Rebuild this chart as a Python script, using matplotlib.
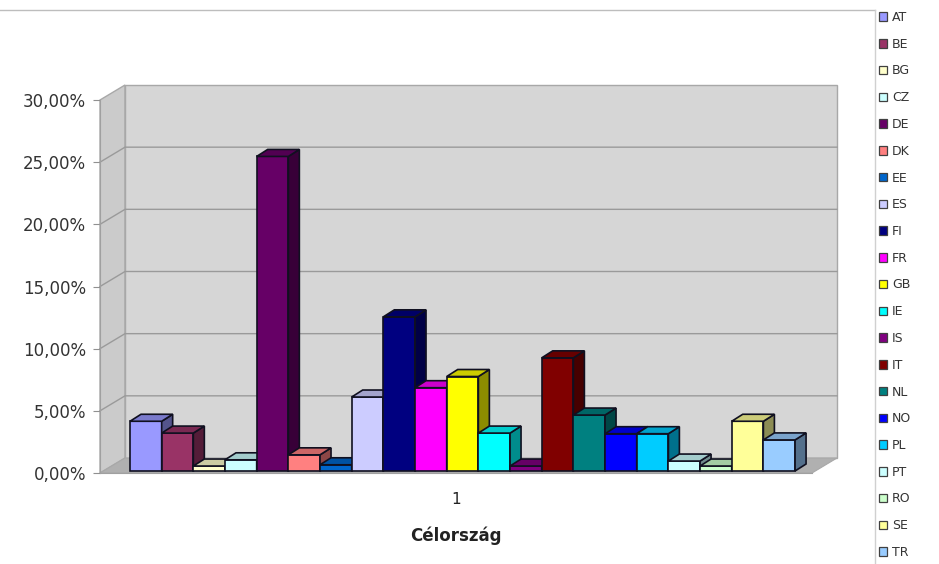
import matplotlib
matplotlib.use("Agg")
import matplotlib.pyplot as plt
import matplotlib.colors as mcolors
from matplotlib.patches import Polygon, Patch
from matplotlib.lines import Line2D
from matplotlib.ticker import FuncFormatter

countries = ["AT", "BE", "BG", "CZ", "DE", "DK", "EE", "ES", "FI", "FR", "GB",
             "IE", "IS", "IT", "NL", "NO", "PL", "PT", "RO", "SE", "TR"]
shares = [4.0, 3.05, 0.4, 0.9, 25.3, 1.3, 0.5, 5.95, 12.4, 6.7, 7.6,
          3.05, 0.4, 9.1, 4.5, 3.0, 3.0, 0.8, 0.4, 4.0, 2.5]
colors = ["#9999FF", "#993366", "#FFFFCC", "#CCFFFF", "#660066", "#FF8080",
          "#0066CC", "#CCCCFF", "#000080", "#FF00FF", "#FFFF00", "#00FFFF",
          "#800080", "#800000", "#008080", "#0000FF", "#00CCFF", "#CCFFFF",
          "#CCFFCC", "#FFFF99", "#99CCFF"]
y_ticks = [0, 5, 10, 15, 20, 25, 30]
category_label = "1"
axis_title = "Célország"

W, H = 939, 564
fig = plt.figure(figsize=(W / 100, H / 100), dpi=100)

# front plane of the 3D box, in pixels
left_px, right_px, bottom_px, top_px = 100, 812, 473, 100
ax = fig.add_axes([left_px / W, 1 - bottom_px / H,
                   (right_px - left_px) / W, (bottom_px - top_px) / H])

bar_w_px = 31.67
first_bar_px = 130
xmin = (left_px - first_bar_px) / bar_w_px
xmax = (right_px - first_bar_px) / bar_w_px
ymax = y_ticks[-1]
ax.set_xlim(xmin, xmax)
ax.set_ylim(0, ymax)
px_per_pct = (bottom_px - top_px) / ymax

wall_dx, wall_dy = 25 / bar_w_px, 15 / px_per_pct
bar_dx, bar_dy = 11 / bar_w_px, 7 / px_per_pct
base = 2 / px_per_pct


def shade(c, f):
    r, g, b = mcolors.to_rgb(c)
    return (r * f, g * f, b * f)


def poly(pts, fc, ec, lw, z):
    ax.add_patch(Polygon(pts, closed=True, facecolor=fc, edgecolor=ec,
                         linewidth=lw, zorder=z, clip_on=False))


wall_ec = "#a8a8a8"
# side wall, back wall, floor
poly([(xmin, 0), (xmin + wall_dx, wall_dy), (xmin + wall_dx, ymax + wall_dy), (xmin, ymax)],
     "#cbcbcb", wall_ec, 1.0, 1)
poly([(xmin + wall_dx, wall_dy), (xmax + wall_dx, wall_dy),
      (xmax + wall_dx, ymax + wall_dy), (xmin + wall_dx, ymax + wall_dy)],
     "#d6d6d6", wall_ec, 1.0, 1)
poly([(xmin, 0), (xmax, 0), (xmax + wall_dx, wall_dy), (xmin + wall_dx, wall_dy)],
     "#b0b0b0", wall_ec, 0.8, 1)

for t in y_ticks[1:-1]:
    ax.plot([xmin, xmin + wall_dx, xmax + wall_dx], [t, t + wall_dy, t + wall_dy],
            color="#9a9a9a", lw=1.0, zorder=2, clip_on=False)

for i, (v, c) in enumerate(zip(shares, colors)):
    x0, x1 = i, i + 1
    y0, y1 = base, base + v
    poly([(x0, y0), (x1, y0), (x1, y1), (x0, y1)], c, "#101020", 1.2, 3)
    poly([(x1, y0), (x1 + bar_dx, y0 + bar_dy), (x1 + bar_dx, y1 + bar_dy), (x1, y1)],
         shade(c, 0.55), "#101020", 1.2, 3)
    poly([(x0, y1), (x1, y1), (x1 + bar_dx, y1 + bar_dy), (x0 + bar_dx, y1 + bar_dy)],
         shade(c, 0.8), "#101020", 1.2, 3)

ax.set_yticks(y_ticks)
ax.yaxis.set_major_formatter(FuncFormatter(lambda v, p: f"{v:.2f}".replace(".", ",") + "%"))
ax.tick_params(axis="y", direction="out", length=5, color="#909090",
               labelsize=12, labelcolor="#333333", pad=5)
ax.set_xticks([(xmin + xmax) / 2])
ax.set_xticklabels([category_label])
ax.tick_params(axis="x", length=0, labelsize=11, labelcolor="#222222", pad=14)
ax.set_xlabel(axis_title, fontsize=12, fontweight="bold", color="#222222", labelpad=14)
for s in ["top", "right"]:
    ax.spines[s].set_visible(False)
ax.spines["left"].set_color("#a0a0a0")
ax.spines["bottom"].set_color("#a0a0a0")
ax.patch.set_visible(False)

# chart area border lines
fig.add_artist(Line2D([0, 875 / W], [1 - 10 / H, 1 - 10 / H], transform=fig.transFigure,
                      color="#bdbdbd", lw=1.0))
fig.add_artist(Line2D([875 / W, 875 / W], [1 - 10 / H, 0], transform=fig.transFigure,
                      color="#d0d0d0", lw=1.0))

handles = [Patch(facecolor=c, edgecolor="#404040", linewidth=0.9) for c in colors]
fig.legend(handles, countries, loc="upper left", bbox_to_anchor=(879 / W, 1 - 11 / H),
           frameon=False, fontsize=9, labelspacing=1.1, handlelength=0.65,
           handleheight=0.65, handletextpad=0.4, borderaxespad=0, borderpad=0,
           labelcolor="#333333")

fig.savefig("out.png", dpi=100)
